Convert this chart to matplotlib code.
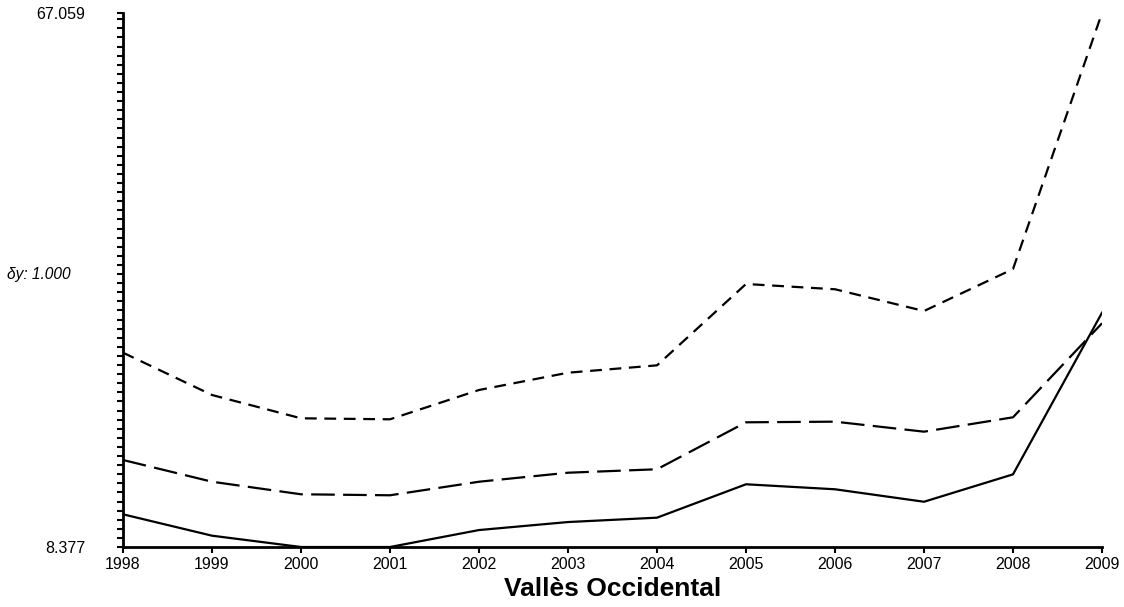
import numpy as np
import matplotlib
import matplotlib.pyplot as plt
from matplotlib.ticker import FixedLocator, NullFormatter

matplotlib.use('Agg')

plt.rcParams['font.family'] = ['Liberation Sans', 'DejaVu Sans']
plt.rcParams['lines.scale_dashes'] = False

# --- data ---
YEARS = [1998, 1999, 2000, 2001, 2002, 2003, 2004, 2005, 2006, 2007, 2008, 2009]
UPPER = [29.73, 25.08, 22.52, 22.41, 25.63, 27.53, 28.34, 37.28, 36.70, 34.31, 38.92, 67.059]
MIDDLE = [17.94, 15.55, 14.17, 14.06, 15.55, 16.54, 16.92, 22.08, 22.15, 21.05, 22.63, 32.96]
LOWER = [11.97, 9.62, 8.377, 8.377, 10.24, 11.12, 11.60, 15.27, 14.72, 13.35, 16.36, 34.12]
Y_MIN, Y_MAX = 8.377, 67.059
Y_STEP = 1.0
TITLE = 'Vallès Occidental'

W, H = 1124, 607
fig = plt.figure(figsize=(W / 100, H / 100), dpi=100)
ax = fig.add_axes([123 / W, 1 - 547 / H, (1102 - 123) / W, (547 - 13) / H])

ax.plot(YEARS, UPPER, color='black', lw=1.6, dashes=(8.5, 5.5))
ax.plot(YEARS, MIDDLE, color='black', lw=1.6, dashes=(17, 6))
ax.plot(YEARS, LOWER, color='black', lw=1.6)

ax.set_xlim(YEARS[0], YEARS[-1])
ax.set_ylim(Y_MIN, Y_MAX)

for s in ['top', 'right']:
    ax.spines[s].set_visible(False)
for s in ['left', 'bottom']:
    ax.spines[s].set_linewidth(2)

ax.set_xticks(YEARS)
ax.set_xticklabels([str(y) for y in YEARS])
ax.tick_params(axis='x', length=4, width=1.5, pad=3, labelsize=11.5)

ax.yaxis.set_major_locator(FixedLocator([Y_MIN, Y_MAX]))
ax.set_yticklabels([f'{Y_MIN:.3f}', f'{Y_MAX:.3f}'])
ax.yaxis.set_minor_locator(FixedLocator(np.arange(Y_MIN, Y_MAX, Y_STEP)))
ax.yaxis.set_minor_formatter(NullFormatter())
ax.tick_params(axis='y', which='both', length=4, width=1.5, labelsize=11.5)
ax.tick_params(axis='y', which='major', pad=23)

fig.text(7 / W, 1 - 275 / H, f'\u03b4y: {Y_STEP:.3f}', fontsize=11.2,
         style='italic', va='center', ha='left')
fig.text((123 + 1102) / 2 / W, 1 - 589 / H, TITLE, fontsize=19,
         fontweight='bold', ha='center', va='center')

fig.savefig('out.png', dpi=100)
